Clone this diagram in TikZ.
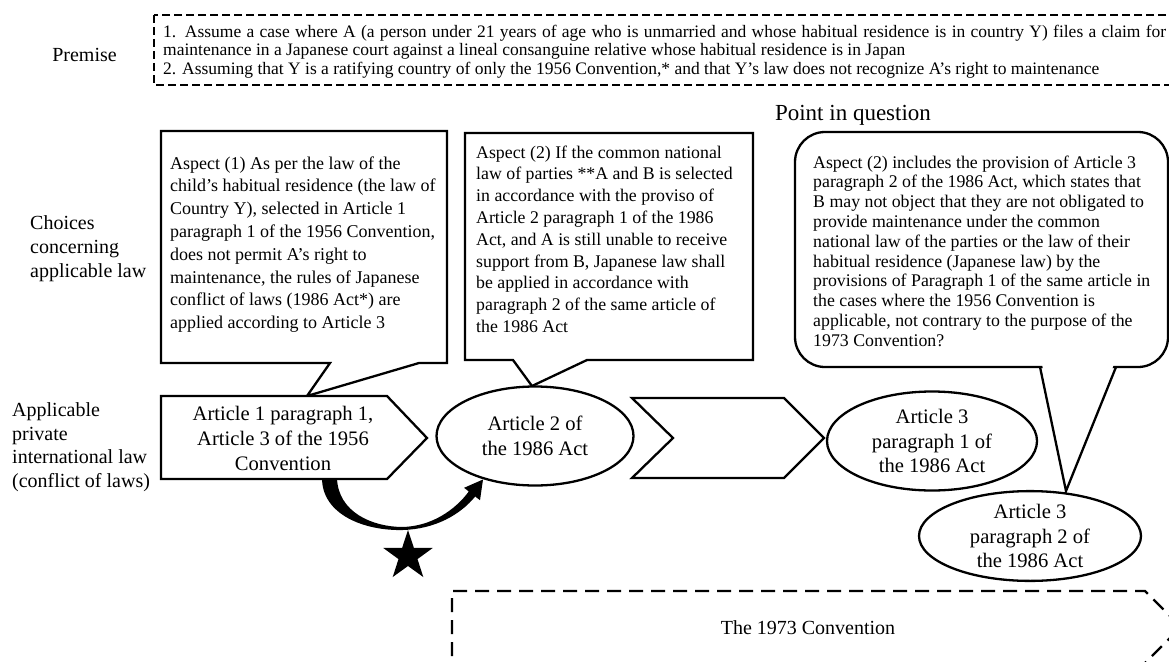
\documentclass[tikz,border=0pt]{standalone}
\usepackage{fontspec}
\setmainfont{Liberation Serif}
\usetikzlibrary{shapes.geometric}
\tikzset{
  outline/.style={draw=black, line width=2.3pt, line join=miter, fill=white},
  premdash/.style={draw=black, line width=2.3pt, dash pattern=on 8pt off 4pt},
  convdash/.style={draw=black, line width=2.3pt, dash pattern=on 14pt off 8pt},
  calltext/.style={anchor=north west, inner sep=0pt, align=left},
  labeltext/.style={anchor=north west, inner sep=0pt, align=left, font=\fontsize{20}{23.6}\selectfont},
  oval/.style={ellipse, draw=black, line width=2.3pt, fill=white, inner sep=0pt, align=center, font=\fontsize{20.6}{24.5}\selectfont},
  shapetext/.style={inner sep=0pt, align=center, font=\fontsize{20.6}{25}\selectfont}
}
\begin{document}
\begin{tikzpicture}[x=1pt,y=-1pt]
\useasboundingbox (0,0) rectangle (1169,661);
\begin{scope}
\clip (0,0) rectangle (1169,661);
\fill[white] (0,0) rectangle (1169,661);

% premise
\node[inner sep=0pt, font=\fontsize{20}{24}\selectfont] (premlabel) at (84.5,55) {Premise};
\draw[premdash] (154,15) rectangle (1172,85);
\node[calltext, font=\fontsize{17.5}{18.6}\selectfont] (premtext) at (163,23.8) {\strut\makebox[1003pt][s]{1. Assume a case where A (a person under 21 years of age who is unmarried and whose habitual residence is in country Y) files a claim for}\\
maintenance in a Japanese court against a lineal consanguine relative whose habitual residence is in Japan\\
2. Assuming that Y is a ratifying country of only the 1956 Convention,* and that Y’s law does not recognize A’s right to maintenance};

% left labels
\node[labeltext] (choices) at (30,213.2) {\strut Choices\\concerning\\applicable law};
\node[labeltext] (applic) at (12,400) {\strut Applicable\\private\\international law\\(conflict of laws)};

% point in question
\node[inner sep=0pt, font=\fontsize{23}{27}\selectfont] (pointq) at (853,115) {Point in question};

% callout 1
\draw[outline] (161,131) -- (447,131) -- (447,363) -- (419,363) -- (307,396) -- (330,363) -- (161,363) -- cycle;
\node[calltext, font=\fontsize{18}{22.8}\selectfont] (c1text) at (170,152.9) {\strut Aspect (1) As per the law of the\\
child’s habitual residence (the law of\\
Country Y), selected in Article 1\\
paragraph 1 of the 1956 Convention,\\
does not permit A’s right to\\
maintenance, the rules of Japanese\\
conflict of laws (1986 Act*) are\\
applied according to Article 3};

% callout 2
\draw[outline] (465,133) -- (753,133) -- (753,360) -- (587,360) -- (532,386) -- (513,360) -- (465,360) -- cycle;
\node[calltext, font=\fontsize{17.8}{21.8}\selectfont] (c2text) at (476,142.6) {\strut Aspect (2) If the common national\\
law of parties **A and B is selected\\
in accordance with the proviso of\\
Article 2 paragraph 1 of the 1986\\
Act, and A is still unable to receive\\
support from B, Japanese law shall\\
be applied in accordance with\\
paragraph 2 of the same article of\\
the 1986 Act};

% callout 3
\draw[outline, rounded corners=30pt] (795,132) rectangle (1168,367);
\fill[white] (1042,364) -- (1066,488) -- (1114,364) -- cycle;
\draw[line width=2.3pt, line join=miter] (1040,367) -- (1066,491) -- (1116,367);
\node[calltext, font=\fontsize{17.8}{19.8}\selectfont] (c3text) at (813,154) {\strut Aspect (2) includes the provision of Article 3\\
paragraph 2 of the 1986 Act, which states that\\
B may not object that they are not obligated to\\
provide maintenance under the common\\
national law of the parties or the law of their\\
habitual residence (Japanese law) by the\\
provisions of Paragraph 1 of the same article in\\
the cases where the 1956 Convention is\\
applicable, not contrary to the purpose of the\\
1973 Convention?};

% pentagon 1
\draw[outline] (161,396) -- (387,396) -- (427,438) -- (387,479) -- (161,479) -- cycle;
\node[shapetext] (art1) at (283,438) {Article 1 paragraph 1,\\Article 3 of the 1956\\Convention};

% ellipse 2
\node[oval, minimum width=197pt, minimum height=99pt] (art2) at (535,436) {Article 2 of\\the 1986 Act};

% chevron
\draw[outline] (632,398) -- (784,398) -- (824,438) -- (784,478) -- (632,478) -- (673,438) -- cycle;

% ellipse 3
\node[oval, minimum width=210pt, minimum height=99pt] (art31) at (932,441) {Article 3\\paragraph 1 of\\the 1986 Act};

% ellipse 4
\node[oval, minimum width=222pt, minimum height=86pt] (art32) at (1030,536) {Article 3\\paragraph 2 of\\the 1986 Act};

% curved arrow from art1 to art2
\fill[black] (322,478) .. controls (322,515) and (365,531) .. (403,530)
  .. controls (435,529) and (460,515) .. (475.2,496.5)
  -- (480,500.2) -- (483,479.5) -- (464.1,487.8) -- (468.8,491.5)
  .. controls (455,510) and (432,526) .. (403,527)
  .. controls (372,527) and (338,512) .. (337,478) -- cycle;

% star
\node[star, star points=5, star point ratio=2.6, fill=black, minimum size=52pt, inner sep=0pt] (star) at (408,556) {};

% 1973 convention
\draw[convdash] (452,700) -- (452,591) -- (1145,591) -- (1181,627) -- (1145,663);
\node[inner sep=0pt, font=\fontsize{20}{24}\selectfont] (conv73) at (808,628) {The 1973 Convention};
\end{scope}
\end{tikzpicture}
\end{document}
